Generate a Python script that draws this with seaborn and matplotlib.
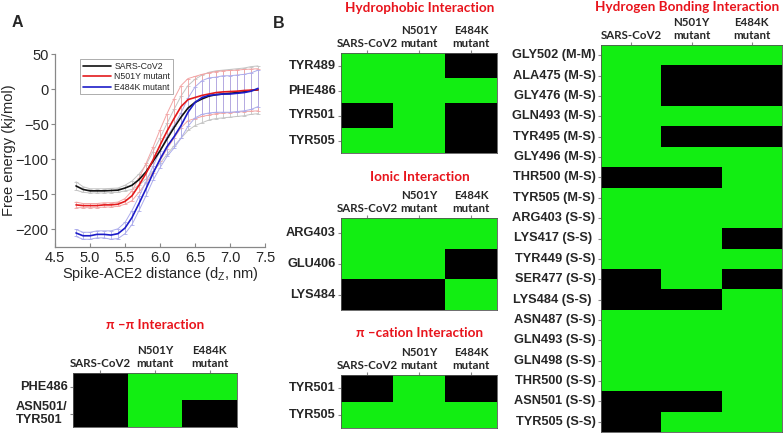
import numpy as np
import pandas as pd
import matplotlib
matplotlib.use("Agg")
import matplotlib.pyplot as plt
import seaborn as sns
from matplotlib.colors import ListedColormap

# ===================== 数据：自由能曲线 =====================
dist = [4.8, 4.9, 5.0, 5.1, 5.2, 5.3, 5.4, 5.5, 5.6, 5.7, 5.8, 5.9, 6.0, 6.1,
        6.2, 6.3, 6.4, 6.5, 6.6, 6.7, 6.8, 6.9, 7.0, 7.1, 7.2, 7.3, 7.4]

fe_wt = [-138, -143, -145, -145, -145, -144.5, -144, -141, -137, -129, -118, -103, -88, -71,
         -55, -40, -27, -19, -14, -10, -8, -7, -6, -5, -4, -2, -1]
err_wt = [6, 4, 3, 3, 3, 3, 3, 4, 6, 8, 10, 14, 18, 22,
          26, 30, 32, 33, 34, 34, 34, 34, 34, 34, 34, 34, 34]

fe_n501y = [-165, -166, -166, -166, -165, -165, -164, -160, -152, -137, -120, -101, -80, -60,
            -42, -25, -15, -12, -9, -7, -5, -4, -3.5, -3, -2, -1.5, -1]
err_n501y = [4, 3, 3, 3, 3, 3, 3, 4, 7, 10, 14, 18, 22, 25,
             28, 30, 30, 30, 30, 30, 30, 30, 30, 30, 30, 30, 30]

fe_e484k = [-205, -209, -209, -207, -207, -208, -206, -198, -183, -163, -142, -120, -100, -82,
            -68, -52, -33, -19, -12, -9, -8, -7, -7, -6, -5, -3, 1]
err_e484k = [5, 5, 5, 5, 5, 6, 7, 8, 10, 10, 10, 10, 12, 14,
             16, 18, 20, 22, 24, 25, 25, 26, 26, 26, 26, 26, 26]

systems = ["SARS-CoV2", "N501Y mutant", "E484K mutant"]

# ===================== 数据：相互作用矩阵 =====================
strains = ["SARS-CoV2", "N501Y\nmutant", "E484K\nmutant"]

pipi_rows = ["PHE486", "ASN501/\nTYR501"]
pipi_vals = [[0, 1, 1],
             [0, 1, 0]]

hyd_rows = ["TYR489", "PHE486", "TYR501", "TYR505"]
hyd_vals = [[1, 1, 0],
            [1, 1, 1],
            [0, 1, 0],
            [1, 1, 0]]

ion_rows = ["ARG403", "GLU406", "LYS484"]
ion_vals = [[1, 1, 1],
            [1, 1, 0],
            [0, 0, 1]]

cat_rows = ["TYR501", "TYR505"]
cat_vals = [[0, 1, 0],
            [1, 1, 1]]

hb_rows = ["GLY502 (M-M)", "ALA475 (M-S)", "GLY476 (M-S)", "GLN493 (M-S)", "TYR495 (M-S)",
           "GLY496 (M-S)", "THR500 (M-S)", "TYR505 (M-S)", "ARG403 (S-S)", "LYS417 (S-S) ",
           "TYR449 (S-S)", "SER477 (S-S)", "LYS484 (S-S) ", "ASN487 (S-S)", "GLN493 (S-S)",
           "GLN498 (S-S)", "THR500 (S-S)", "ASN501 (S-S)", "TYR505 (S-S)"]
hb_vals = [[1, 1, 1],
           [1, 0, 0],
           [1, 0, 0],
           [1, 1, 1],
           [1, 0, 0],
           [1, 1, 1],
           [0, 0, 1],
           [1, 1, 1],
           [1, 1, 1],
           [1, 1, 0],
           [1, 1, 1],
           [0, 1, 0],
           [0, 0, 1],
           [1, 1, 1],
           [1, 1, 1],
           [1, 1, 1],
           [1, 1, 1],
           [0, 0, 1],
           [0, 1, 1]]

# ===================== 样式 =====================
sns.set_style("white")
plt.rcParams['font.family'] = ['Liberation Sans', 'DejaVu Sans']
plt.rcParams['mathtext.fontset'] = 'custom'
plt.rcParams['mathtext.rm'] = 'Liberation Sans'

W, H = 784, 438
fig = plt.figure(figsize=(W / 100, H / 100), dpi=100)


def rect(x0, y0, x1, y1):
    # 像素坐标 -> figure 坐标
    return [x0 / W, 1 - y1 / H, (x1 - x0) / W, (y1 - y0) / H]


# ===================== A: 自由能曲线 =====================
ax = fig.add_axes(rect(55, 54, 265, 247))
line_cols = ["#111111", "#e31a1c", "#1c1cc8"]
bar_cols = ["#c4c4c4", "#f2a4a4", "#acacec"]
means = [fe_wt, fe_n501y, fe_e484k]
errs = [err_wt, err_n501y, err_e484k]

for m, e, c in zip(means, errs, bar_cols):
    ax.errorbar(dist, m, yerr=e, fmt="none", ecolor=c, elinewidth=0.6,
                capsize=1.5, capthick=0.6, zorder=1)
    ax.plot(dist, np.array(m) + np.array(e), color=c, lw=0.7, zorder=1)
    ax.plot(dist, np.array(m) - np.array(e), color=c, lw=0.7, zorder=1)

df = pd.DataFrame({
    "dist": dist * 3,
    "fe": fe_wt + fe_n501y + fe_e484k,
    "system": [s for s in systems for _ in dist],
})
sns.lineplot(data=df, x="dist", y="fe", hue="system", palette=line_cols,
             linewidth=1.2, ax=ax, zorder=3)

ax.set_xlim(4.5, 7.5)
ax.set_ylim(-225, 50)
ax.set_xticks(np.arange(4.5, 7.51, 0.5))
ax.set_yticks(np.arange(-200, 51, 50))
ax.tick_params(axis="x", labelsize=10.5, length=3, direction="in",
               color="#888888", bottom=True, pad=3)
ax.tick_params(axis="y", labelsize=10.5, length=3, direction="out",
               color="#888888", left=True, pad=1.5)
ax.set_xlabel(r"Spike-ACE2 distance (d$_\mathregular{Z}$, nm)", fontsize=10.5, labelpad=0)
ax.set_ylabel("Free energy (kj/mol)", fontsize=10.5, labelpad=0)
for side in ["top", "right"]:
    ax.spines[side].set_visible(False)
for side in ["left", "bottom"]:
    ax.spines[side].set_color("#888888")
    ax.spines[side].set_linewidth(0.9)

leg = ax.legend(loc="upper left", bbox_to_anchor=(0.1, 0.995), fontsize=6.3,
                frameon=True, fancybox=False, edgecolor="#888888",
                handlelength=3.2, handletextpad=0.4, borderpad=0.3,
                labelspacing=0.15, title=None)
leg.get_frame().set_linewidth(0.6)

fig.text(17.5 / W, 1 - 22.5 / H, "A", fontsize=11.5, fontweight="bold",
         ha="center", va="center")
fig.text(279 / W, 1 - 23.5 / H, "B", fontsize=11.5, fontweight="bold",
         ha="center", va="center")

# ===================== B: 相互作用热图 =====================
cmap = ListedColormap(["#000000", "#12ee12"])
title_color = "#e8141c"


def draw_map(box, rows, vals, title, title_xy, row_multi="right"):
    axm = fig.add_axes(rect(*box))
    data = pd.DataFrame(vals, index=rows, columns=strains)
    sns.heatmap(data, cmap=cmap, vmin=0, vmax=1, cbar=False, ax=axm)
    axm.xaxis.tick_top()
    axm.tick_params(axis="x", length=2, color="#888888", pad=1, top=True, bottom=False)
    axm.tick_params(axis="y", length=2.5, color="#888888", pad=1.5, left=True)
    axm.set_xticklabels(strains, rotation=0, fontsize=8.3, fontweight="bold",
                        family=["Lato", "DejaVu Sans"], va="bottom", linespacing=1.25)
    axm.set_yticklabels(rows, rotation=0, fontsize=9.2, fontweight="bold",
                        multialignment=row_multi, va="center", linespacing=1.1)
    axm.set_xlabel("")
    axm.set_ylabel("")
    for s in axm.spines.values():
        s.set_visible(True)
        s.set_color("#555555")
        s.set_linewidth(0.6)
    fig.text(title_xy[0] / W, 1 - title_xy[1] / H, title, ha="center", va="center",
             color=title_color, fontsize=9.7, fontweight="bold",
             family=["Lato", "DejaVu Sans"])
    return axm


draw_map((73, 373, 237, 427), pipi_rows, pipi_vals, "π –π Interaction", (155, 325), "left")
draw_map((341, 53, 497, 153), hyd_rows, hyd_vals, "Hydrophobic Interaction", (420, 8))
draw_map((341, 218, 497, 310), ion_rows, ion_vals, "Ionic Interaction", (420, 177))
draw_map((341, 375, 497, 428), cat_rows, cat_vals, "π –cation Interaction", (420, 333))
draw_map((601, 45, 782, 432), hb_rows, hb_vals, "Hydrogen Bonding Interaction", (687, 7))

fig.savefig("out.png", dpi=100)
